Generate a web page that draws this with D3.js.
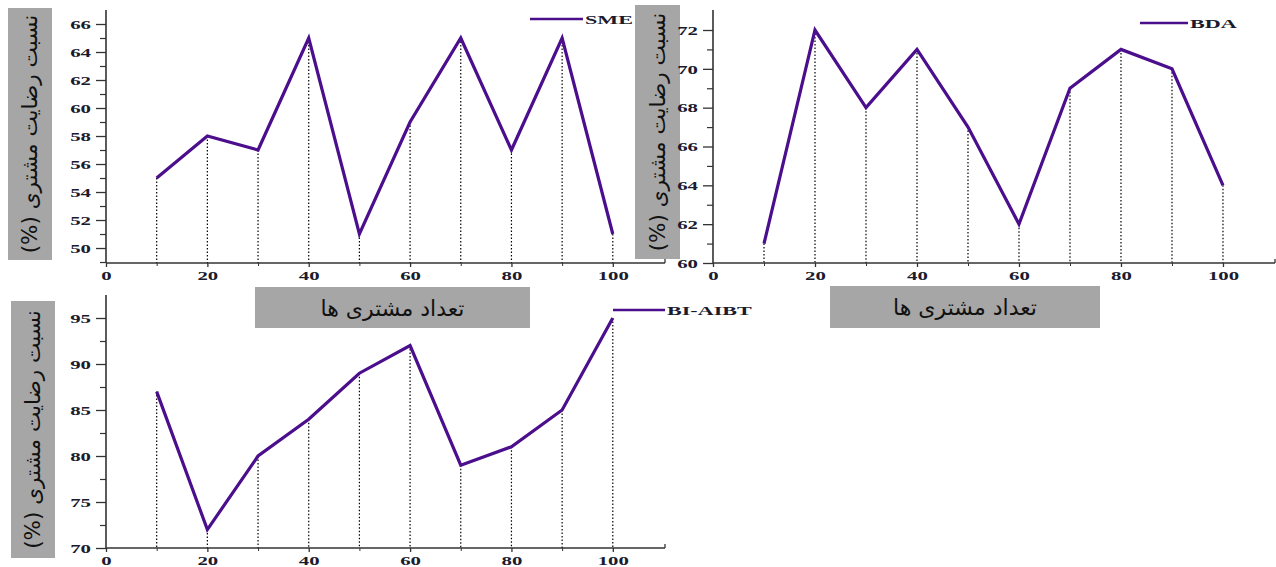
<!DOCTYPE html>
<html><head><meta charset="utf-8">
<script src="https://cdn.jsdelivr.net/npm/d3@7"></script>
<style>body{margin:0;background:#fff}svg{display:block}</style>
</head><body>
<svg id="c" width="1276" height="567"></svg>
<script>
const xValues = [10,20,30,40,50,60,70,80,90,100];
const smeValues = [55,58,57,65,51,59,65,57,65,51];
const bdaValues = [61,72,68,71,67,62,69,71,70,64];
const biaibtValues = [87,72,80,84,89,92,79,81,85,95];
const xTickLabels = [0,20,40,60,80,100];
const xMinorTicks = [10,30,50,70,90];
const smeYTicks = [50,52,54,56,58,60,62,64,66];
const smeYMinor = [49,51,53,55,57,59,61,63,65];
const bdaYTicks = [60,62,64,66,68,70,72];
const bdaYMinor = [61,63,65,67,69,71];
const biYTicks = [70,75,80,85,90,95];
const biYMinor = [72.5,77.5,82.5,87.5,92.5];
const yTitle = "نسبت رضایت مشتری (%)";
const xTitle = "تعداد مشتری ها";

const svg = d3.select("#c");
const LINE = "#4b0e8c", AX = "#333", LBL = "#1b1b2e";
const SX = 1.6;

const panels = [
  {name:"SME", vals:smeValues, xd:[0,110.3], xr:[106,665], yd:[48.93,67], yr:[263,10],
   yt:smeYTicks, ym:smeYMinor, box:[8,8,44,252], legend:[530,583,19]},
  {name:"BDA", vals:bdaValues, xd:[0,110.2], xr:[713,1275], yd:[60,73.03], yr:[263,10],
   yt:bdaYTicks, ym:bdaYMinor, box:[635,5,45,254], legend:[1140,1188,23]},
  {name:"BI-AIBT", vals:biaibtValues, xd:[0,110.3], xr:[106,665], yd:[70,97.5], yr:[548,295],
   yt:biYTicks, ym:biYMinor, box:[11,301,44,257], legend:[613,665,310]}
];

panels.forEach(p => {
  const x = d3.scaleLinear().domain(p.xd).range(p.xr);
  const y = d3.scaleLinear().domain(p.yd).range(p.yr);
  const g = svg.append("g");

  // y title box
  g.append("rect").attr("x",p.box[0]).attr("y",p.box[1]).attr("width",p.box[2]).attr("height",p.box[3]).attr("fill","#a6a6a6");
  g.append("text").attr("transform",`translate(${p.box[0]+p.box[2]/2+7},${p.box[1]+p.box[3]/2}) rotate(-90)`)
    .attr("text-anchor","middle").attr("font-family","DejaVu Sans").attr("font-size",21.5).attr("fill","#111")
    .attr("direction","rtl").text(yTitle);

  // drop lines
  g.selectAll(".drop").data(xValues).enter().append("line")
    .attr("x1",d=>x(d)).attr("x2",d=>x(d))
    .attr("y1",(d,i)=>y(p.vals[i])).attr("y2",p.yr[0])
    .attr("stroke","#000").attr("stroke-width",1.2).attr("stroke-dasharray","1.5,2");

  // axes
  const yAxis = d3.axisLeft(y).tickValues(p.yt).tickSize(10).tickPadding(4).tickFormat(d3.format("d"));
  const ya = g.append("g").attr("transform",`translate(${p.xr[0]},0)`).call(yAxis);
  ya.select(".domain").remove();
  ya.selectAll("line").attr("stroke",AX).attr("stroke-width",1.3);
  ya.selectAll("text").attr("x",-15/SX).attr("transform",`scale(${SX},1)`)
    .attr("font-family","Liberation Serif").attr("font-weight","bold").attr("font-size",13).attr("fill",LBL);
  const yMin = d3.axisLeft(y).tickValues(p.ym).tickSize(6).tickFormat("");
  const ym = g.append("g").attr("transform",`translate(${p.xr[0]},0)`).call(yMin);
  ym.select(".domain").remove();
  ym.selectAll("line").attr("stroke",AX).attr("stroke-width",1.2);

  const xAxis = d3.axisBottom(x).tickValues(xTickLabels).tickSize(4).tickPadding(4).tickFormat(d3.format("d"));
  const xa = g.append("g").attr("transform",`translate(0,${p.yr[0]})`).call(xAxis);
  xa.select(".domain").remove();
  xa.selectAll("line").attr("stroke",AX).attr("stroke-width",1.3);
  xa.selectAll("text").attr("transform",`scale(${SX},1)`)
    .attr("font-family","Liberation Serif").attr("font-weight","bold").attr("font-size",13).attr("fill",LBL);
  const xMin = d3.axisBottom(x).tickValues(xMinorTicks).tickSize(3).tickFormat("");
  const xm = g.append("g").attr("transform",`translate(0,${p.yr[0]})`).call(xMin);
  xm.select(".domain").remove();
  xm.selectAll("line").attr("stroke",AX);

  // axis lines
  g.append("line").attr("x1",p.xr[0]).attr("x2",p.xr[1]).attr("y1",p.yr[0]).attr("y2",p.yr[0]).attr("stroke",AX).attr("stroke-width",1.6);
  g.append("line").attr("x1",p.xr[1]).attr("x2",p.xr[1]).attr("y1",p.yr[0]).attr("y2",p.yr[0]-4).attr("stroke",AX).attr("stroke-width",1.3);
  g.append("line").attr("x1",p.xr[0]).attr("x2",p.xr[0]).attr("y1",p.yr[0]).attr("y2",p.yr[1]).attr("stroke",AX).attr("stroke-width",1.6);

  // series line
  const line = d3.line().x((d,i)=>x(xValues[i])).y(d=>y(d));
  g.append("path").datum(p.vals).attr("d",line).attr("fill","none").attr("stroke",LINE).attr("stroke-width",3.2).attr("stroke-linejoin","miter");

  // legend
  g.append("line").attr("x1",p.legend[0]).attr("x2",p.legend[1]).attr("y1",p.legend[2]).attr("y2",p.legend[2]).attr("stroke",LINE).attr("stroke-width",2.5);
  g.append("text").attr("transform",`translate(${p.legend[1]+2},${p.legend[2]+4.5}) scale(1.7,1)`)
    .attr("font-family","Liberation Serif").attr("font-weight","bold").attr("font-size",13).attr("fill",LBL).text(p.name);
});

// x title boxes
const xBoxes = [[255,287,275,41],[830,286,270,42]];
xBoxes.forEach(b => {
  svg.append("rect").attr("x",b[0]).attr("y",b[1]).attr("width",b[2]).attr("height",b[3]).attr("fill","#a6a6a6");
  svg.append("text").attr("x",b[0]+b[2]/2).attr("y",b[1]+b[3]/2+8).attr("text-anchor","middle")
    .attr("font-family","DejaVu Sans").attr("font-size",22).attr("fill","#111").attr("direction","rtl").text(xTitle);
});
</script>
</body></html>
